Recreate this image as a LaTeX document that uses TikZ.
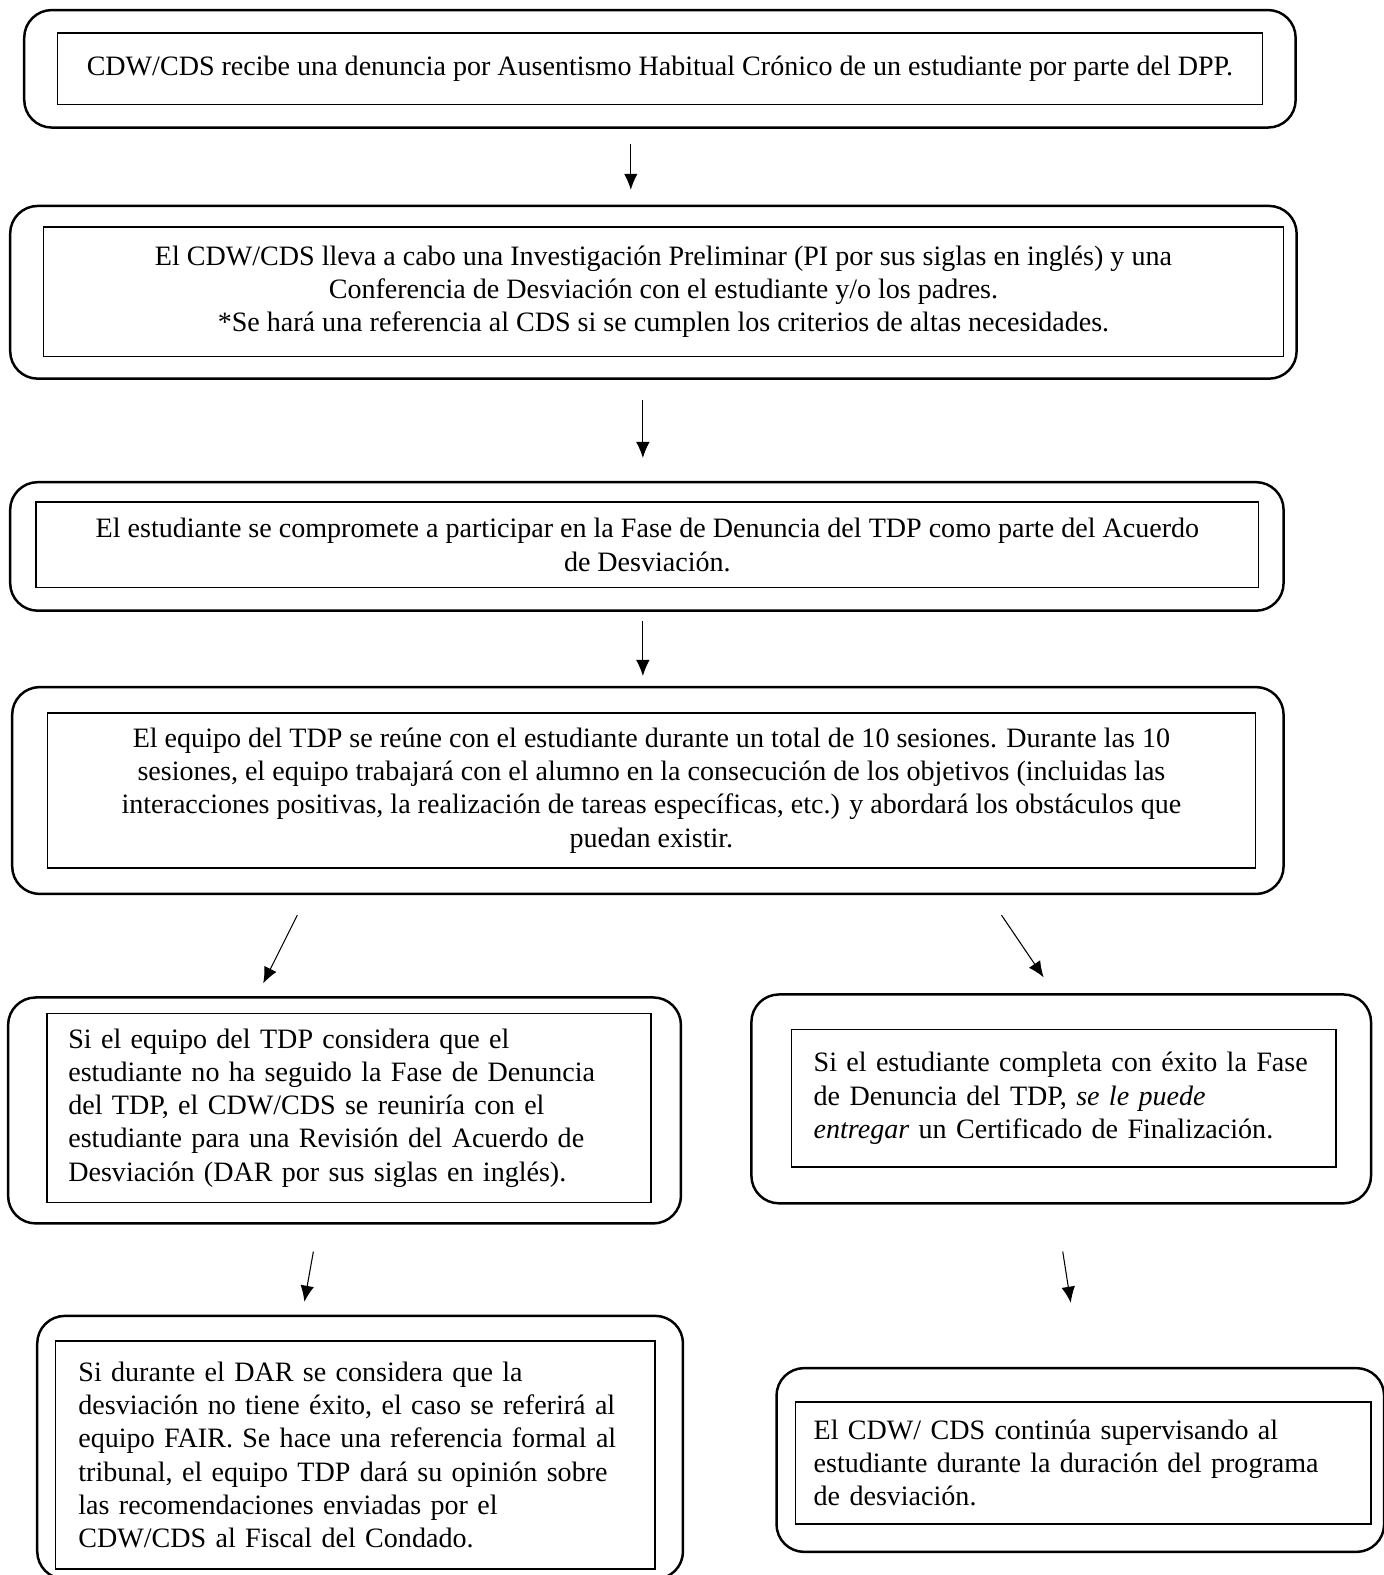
\documentclass[tikz,border=0pt]{standalone}
\usepackage{fontspec}
\setmainfont{Liberation Serif}
\usepackage{tikz}
\usetikzlibrary{arrows.meta}
\tikzset{
	frame/.style={
		rectangle,
		rounded corners=0.55cm,
		draw=black,
		line width=1.4pt,
		inner sep=0pt
	},
	stepbox/.style={
		rectangle,
		draw=black,
		line width=0.9pt,
		inner xsep=0.4cm,
		inner ysep=0pt,
		align=center,
		font=\fontsize{15.9}{18.8}\selectfont
	},
	leftbox/.style={
		stepbox,
		align=left
	},
	arrow/.style={line width=0.6pt,->,>={Latex[length=0.32cm,width=0.27cm]}}
}

\begin{document}
\begin{tikzpicture}[x=0.02cm,y=-0.02cm]
	\useasboundingbox (0,0) rectangle (1377,1568);

	% main column
	\node (frame1) [frame, minimum width=25.32cm, minimum height=2.34cm] at (657,68.5) {};
	\node (report) [stepbox, minimum width=24cm, minimum height=1.42cm] at (657,68.5)
		{CDW/CDS recibe una denuncia por Ausentismo Habitual Crónico de un estudiante por parte del DPP.};

	\node (frame2) [frame, minimum width=25.62cm, minimum height=3.44cm] at (650.5,291) {};
	\node (inquiry) [stepbox, minimum width=24.7cm, minimum height=2.58cm] at (660.5,290.5)
		{El CDW/CDS lleva a cabo una Investigación Preliminar (PI por sus siglas en inglés) y una\\
		Conferencia de Desviación con el estudiante y/o los padres.\\
		*Se hará una referencia al CDS si se cumplen los criterios de altas necesidades.};

	\node (frame3) [frame, minimum width=25.36cm, minimum height=2.56cm] at (644,544) {};
	\node (commit) [stepbox, minimum width=24.34cm, minimum height=1.7cm] at (644.5,542.5)
		{El estudiante se compromete a participar en la Fase de Denuncia del TDP como parte del Acuerdo\\
		de Desviación.};

	\node (frame4) [frame, minimum width=25.32cm, minimum height=4.12cm] at (645,787) {};
	\node (sessions) [stepbox, minimum width=24.06cm, minimum height=3.08cm] at (648.5,787)
		{El equipo del TDP se reúne con el estudiante durante un total de 10 sesiones. Durante las 10\\
		sesiones, el equipo trabajará con el alumno en la consecución de los objetivos (incluidas las\\
		interacciones positivas, la realización de tareas específicas, etc.) y abordará los obstáculos que\\
		puedan existir.};

	% left branch
	\node (frame5) [frame, minimum width=13.4cm, minimum height=4.5cm] at (343,1105.5) {};
	\node (review) [leftbox, inner xsep=0.42cm, text width=11.18cm, minimum height=3.76cm] at (347.5,1103)
		{Si el equipo del TDP considera que el\\
		estudiante no ha seguido la Fase de Denuncia\\
		del TDP, el CDW/CDS se reuniría con el\\
		estudiante para una Revisión del Acuerdo de\\
		Desviación (DAR por sus siglas en inglés).};

	\node (frame7) [frame, minimum width=12.86cm, minimum height=5.24cm] at (358.5,1441) {};
	\node (fair) [leftbox, inner xsep=0.46cm, text width=11.02cm, minimum height=4.54cm] at (353.5,1448.5)
		{Si durante el DAR se considera que la\\
		desviación no tiene éxito, el caso se referirá al\\
		equipo FAIR. Se hace una referencia formal al\\
		tribunal, el equipo TDP dará su opinión sobre\\
		las recomendaciones enviadas por el\\
		CDW/CDS al Fiscal del Condado.};

	% right branch
	\node (frame6) [frame, minimum width=12.34cm, minimum height=4.16cm] at (1056.5,1094) {};
	\node (success) [leftbox, inner xsep=0.44cm, text width=9.96cm, minimum height=2.74cm] at (1059,1093.5)
		{Si el estudiante completa con éxito la Fase\\
		de Denuncia del TDP, \textit{se le puede}\\
		\textit{entregar} un Certificado de Finalización.};

	\node (frame8) [frame, minimum width=12.1cm, minimum height=3.66cm] at (1075.5,1453.5) {};
	\node (monitor) [leftbox, inner xsep=0.36cm, text width=10.74cm, minimum height=2.42cm] at (1078.5,1456.5)
		{El CDW/ CDS continúa supervisando al\\
		estudiante durante la duración del programa\\
		de desviación.};

	% arrows
	\coordinate (a1s) at (628,143);  \coordinate (a1e) at (628,189);
	\coordinate (a2s) at (640,398);  \coordinate (a2e) at (640,456);
	\coordinate (a3s) at (640,618);  \coordinate (a3e) at (640,673);
	\coordinate (a4s) at (296,911);  \coordinate (a4e) at (262,979);
	\coordinate (a5s) at (997,911);  \coordinate (a5e) at (1039,973);
	\coordinate (a6s) at (312,1246); \coordinate (a6e) at (303,1296);
	\coordinate (a7s) at (1058,1246); \coordinate (a7e) at (1066,1297);

	\draw [arrow] (a1s) -- (a1e);
	\draw [arrow] (a2s) -- (a2e);
	\draw [arrow] (a3s) -- (a3e);
	\draw [arrow] (a4s) -- (a4e);
	\draw [arrow] (a5s) -- (a5e);
	\draw [arrow] (a6s) -- (a6e);
	\draw [arrow] (a7s) -- (a7e);
\end{tikzpicture}
\end{document}
